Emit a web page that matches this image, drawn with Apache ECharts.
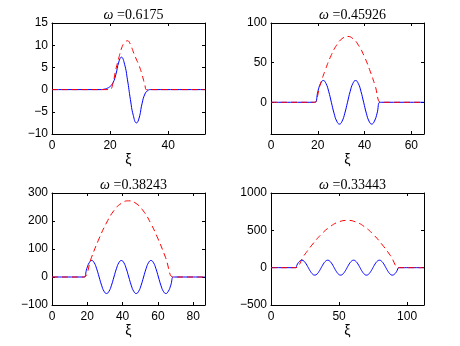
<!DOCTYPE html>
<html>
<head>
<meta charset="utf-8">
<script src="https://cdn.jsdelivr.net/npm/echarts@6/dist/echarts.min.js"></script>
<style>
html,body{margin:0;padding:0;background:#fff;}
#chart{width:460px;height:346px;}
</style>
</head>
<body>
<div id="chart"></div>
<script>
// panel labels and axis ranges
var omegas = ['0.6175', '0.45926', '0.38243', '0.33443'];
var xMax = [52.7, 65.4, 86.7, 112.4];
var yMin = [-10, -40, -100, -500];
var yMax = [15, 100, 300, 1000];
var xTicks = [[0, 20, 40], [0, 20, 40, 60], [0, 20, 40, 60, 80], [0, 50, 100]];
var yTicks = [[-10, -5, 0, 5, 10, 15], [0, 50, 100], [-100, 0, 100, 200, 300], [-500, 0, 500, 1000]];

// panel 1
var xiBlue1 = [0, 17, 18, 19, 20, 21, 22, 23, 23.9, 25, 26, 27, 28, 29.1, 30, 31, 32, 33, 34, 52.7];
var blue1 = [0, 0, 0.1, 0.3, 0.7, 1.5, 3.4, 6.2, 7.3, 5.7, 2.2, -2.2, -5.8, -7.5, -6.4, -3.2, -1.0, -0.2, 0, 0];
var xiRed1 = [0, 19.3, 20, 21, 22, 23, 24, 25, 26, 27, 28, 29, 30, 31, 32, 32.5, 33.2, 52.7];
var red1 = [0, 0, 0, 1.5, 4.6, 7.1, 9.4, 10.6, 11.0, 10.2, 8.5, 6.9, 5.4, 3.4, 1.0, 0, 0, 0];

// panel 2
var xiBlue2 = [0, 18.0, 18.9, 20.05, 21.2, 22.35, 23.5, 24.65, 25.8, 26.95, 28.1, 29.25, 30.4, 31.55, 32.7,
  33.85, 35.0, 36.15, 37.3, 38.45, 39.6, 40.75, 41.9, 43.05, 44.2, 45.35, 46.5, 47.4, 65.4];
var blue2 = [0, 0, 0, 13.8, 23.8, 27.5, 23.8, 13.8, 0, -13.8, -23.8, -27.5, -23.8, -13.8, 0,
  13.8, 23.8, 27.5, 23.8, 13.8, 0, -13.8, -23.8, -27.5, -23.8, -13.8, 0, 0, 0];
var xiRed2 = [0, 17.8, 18.6, 20.95, 23.3, 25.65, 28.0, 30.35, 32.7, 35.05, 37.4, 39.75, 42.1, 44.45, 46.8, 47.6, 65.4];
var red2 = [0, 0, 0, 21.5, 41.5, 58.7, 71.9, 80.2, 83, 80.2, 71.9, 58.7, 41.5, 21.5, 0, 0, 0];

// panel 3
var xiBlue3 = [0, 17.5, 18.3, 19.7, 21.1, 22.5, 23.9, 25.3, 26.7, 28.1, 29.5, 30.9, 32.3, 33.7, 35.1,
  36.5, 37.9, 39.3, 40.7, 42.1, 43.5, 44.9, 46.3, 47.7, 49.1, 50.5, 51.9, 53.3, 54.7, 56.1, 57.5,
  58.9, 60.3, 61.7, 63.1, 64.5, 65.9, 67.3, 68.7, 69.5, 86.7];
var blue3 = [0, 0, 0, 29.5, 51.1, 59, 51.1, 29.5, 0, -29.5, -51.1, -59, -51.1, -29.5, 0,
  29.5, 51.1, 59, 51.1, 29.5, 0, -29.5, -51.1, -59, -51.1, -29.5, 0, 29.5, 51.1, 59, 51.1,
  29.5, 0, -29.5, -51.1, -59, -51.1, -29.5, 0, 0, 0];
var xiRed3 = [0, 17.4, 18.2, 22.4, 26.6, 30.8, 34.9, 39.2, 43.4, 47.6, 51.8, 55.9, 60.1, 64.3, 68.5, 69.3, 86.7];
var red3 = [0, 0, 0, 70.4, 136, 192.3, 235.6, 262.8, 272, 262.8, 235.6, 192.3, 136, 70.4, 0, 0, 0];

// panel 4
var xiBlue4 = [0, 17.1, 17.9, 19.48, 21.07, 22.65, 24.23, 25.82, 27.4, 28.98, 30.57, 32.15, 33.73, 35.32,
  36.9, 38.48, 40.07, 41.65, 43.23, 44.82, 46.4, 47.98, 49.57, 51.15, 52.73, 54.32, 55.9, 57.48,
  59.07, 60.65, 62.23, 63.82, 65.4, 66.98, 68.57, 70.15, 71.73, 73.32, 74.9, 76.48, 78.07, 79.65,
  81.23, 82.82, 84.4, 85.98, 87.57, 89.15, 90.73, 92.32, 93.9, 94.7, 112.4];
var blue4 = [0, 0, 0, 50, 86.6, 100, 86.6, 50, 0, -50, -86.6, -100, -86.6, -50,
  0, 50, 86.6, 100, 86.6, 50, 0, -50, -86.6, -100, -86.6, -50, 0, 50,
  86.6, 100, 86.6, 50, 0, -50, -86.6, -100, -86.6, -50, 0, 50, 86.6, 100,
  86.6, 50, 0, -50, -86.6, -100, -86.6, -50, 0, 0, 0];
var xiRed4 = [0, 17.2, 18, 24.33, 30.67, 37, 43.33, 49.67, 56, 62.33, 68.67, 75, 81.33, 87.67, 94, 94.8, 112.4];
var red4 = [0, 0, 0, 164, 316.5, 447.6, 548.2, 611.4, 633, 611.4, 548.2, 447.6, 316.5, 164, 0, 0, 0];

var blueX = [xiBlue1, xiBlue2, xiBlue3, xiBlue4];
var blueY = [blue1, blue2, blue3, blue4];
var redX = [xiRed1, xiRed2, xiRed3, xiRed4];
var redY = [red1, red2, red3, red4];

// layout
var gridLeft = [52, 271, 52, 271];
var gridTop = [23, 23, 193, 193];
var gridH = [111, 111, 112, 112];
var gridW = 153;

function pairs(xs, ys) {
  var out = [];
  for (var k = 0; k < xs.length; k++) out.push([xs[k], ys[k]]);
  return out;
}
function minus(v) {
  return String(v).replace('-', '\u2212');
}

var chart = echarts.init(document.getElementById('chart'));
var option = {
  animation: false,
  backgroundColor: '#fff',
  title: [], grid: [], xAxis: [], yAxis: [], series: []
};
var lineCol = '#000';
var sans = 'Liberation Sans, Arial, sans-serif';

for (var i = 0; i < 4; i++) {
  option.grid.push({left: gridLeft[i], top: gridTop[i], width: gridW, height: gridH[i]});
  option.title.push({
    text: '{w|ω} =' + omegas[i],
    left: gridLeft[i] + gridW / 2,
    top: gridTop[i] - 20,
    textAlign: 'center',
    textStyle: {
      fontFamily: 'Liberation Serif, serif', fontSize: 14, fontWeight: 'normal', color: '#000',
      rich: {w: {fontFamily: 'Liberation Serif, serif', fontSize: 14, fontStyle: 'italic', color: '#000'}}
    }
  });
  // bottom / left axes with labels
  option.xAxis.push({
    type: 'value', gridIndex: i, position: 'bottom', min: 0, max: xMax[i],
    axisLine: {show: true, onZero: false, lineStyle: {color: lineCol, width: 1}},
    axisTick: {show: true, inside: true, length: 3, customValues: xTicks[i], lineStyle: {color: lineCol}},
    axisLabel: {customValues: xTicks[i], color: '#000', fontSize: 12, fontFamily: sans, margin: 6, formatter: minus},
    splitLine: {show: false},
    name: 'ξ', nameLocation: 'middle', nameGap: 18,
    nameTextStyle: {color: '#000', fontSize: 14, fontFamily: sans}
  });
  option.yAxis.push({
    type: 'value', gridIndex: i, position: 'left', min: yMin[i], max: yMax[i],
    axisLine: {show: true, onZero: false, lineStyle: {color: lineCol, width: 1}},
    axisTick: {show: true, inside: true, length: 3, customValues: yTicks[i], lineStyle: {color: lineCol}},
    axisLabel: {customValues: yTicks[i], color: '#000', fontSize: 12, fontFamily: sans, margin: 4, formatter: minus},
    splitLine: {show: false}
  });
  // mirrored top / right axes (box + ticks)
  option.xAxis.push({
    type: 'value', gridIndex: i, position: 'top', min: 0, max: xMax[i],
    axisLine: {show: true, onZero: false, lineStyle: {color: lineCol, width: 1}},
    axisTick: {show: true, inside: true, length: 3, customValues: xTicks[i], lineStyle: {color: lineCol}},
    axisLabel: {show: false}, splitLine: {show: false}
  });
  option.yAxis.push({
    type: 'value', gridIndex: i, position: 'right', min: yMin[i], max: yMax[i],
    axisLine: {show: true, onZero: false, lineStyle: {color: lineCol, width: 1}},
    axisTick: {show: true, inside: true, length: 3, customValues: yTicks[i], lineStyle: {color: lineCol}},
    axisLabel: {show: false}, splitLine: {show: false}
  });
  option.series.push({
    type: 'line', xAxisIndex: 2 * i, yAxisIndex: 2 * i, data: pairs(blueX[i], blueY[i]),
    showSymbol: false, smooth: true, lineStyle: {color: '#0000ff', width: 1}
  });
  option.series.push({
    type: 'line', xAxisIndex: 2 * i, yAxisIndex: 2 * i, data: pairs(redX[i], redY[i]),
    showSymbol: false, smooth: true, lineStyle: {color: '#ff0000', width: 1, type: [6, 4]}
  });
}
chart.setOption(option);
</script>
</body>
</html>
